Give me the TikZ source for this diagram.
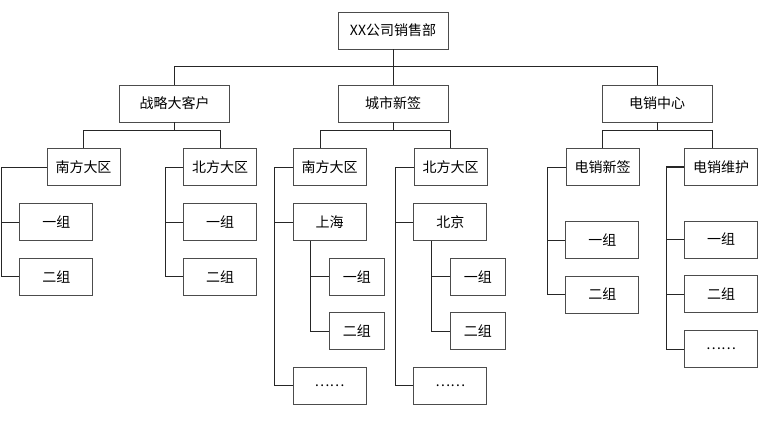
\documentclass[tikz,border=0pt]{standalone}
\usepackage{fontspec}
\setmainfont{Noto Sans CJK SC}
\begin{document}
\begin{tikzpicture}[x=1pt,y=-1pt,
  box/.style={draw=black!70, line width=0.9pt, fill=white, inner sep=0pt, minimum height=37pt,
    font=\fontsize{14}{16}\selectfont},
  wbox/.style={box, minimum width=110pt},
  mbox/.style={box, minimum width=73pt},
  sbox/.style={box, minimum width=55pt},
  conn/.style={draw=black!85, line width=0.9pt}]
\useasboundingbox (0,0) rectangle (769,425);
% level 1 and 2
\node[wbox] (top) at (393,30.5) {XX公司销售部};
\node[wbox] (zhan) at (174.5,103.5) {战略大客户};
\node[wbox] (city) at (393,103.5) {城市新签};
\node[wbox] (dian) at (657,103.5) {电销中心};
% level 3
\node[mbox] (nL) at (83.5,167) {南方大区};
\node[mbox] (bL) at (220,167) {北方大区};
\node[mbox] (nC) at (329.5,167) {南方大区};
\node[mbox] (bC) at (450.5,167) {北方大区};
\node[mbox] (xin) at (602.5,167) {电销新签};
\node[mbox] (wei) at (721,167) {电销维护};
% level 4
\node[mbox] (nL1) at (56.3,222) {一组};
\node[mbox] (nL2) at (56.3,276.7) {二组};
\node[mbox] (bL1) at (220,222) {一组};
\node[mbox] (bL2) at (220,276.7) {二组};
\node[mbox] (sh) at (329.5,222) {上海};
\node[sbox] (sh1) at (356.8,276.7) {一组};
\node[sbox] (sh2) at (356.8,331.3) {二组};
\node[mbox] (nCd) at (329.5,385.7) {……};
\node[mbox] (bj) at (450.3,222) {北京};
\node[sbox] (bj1) at (477.8,276.7) {一组};
\node[sbox] (bj2) at (477.8,331.3) {二组};
\node[mbox] (bCd) at (450.3,385.7) {……};
\node[mbox] (xin1) at (602.3,240) {一组};
\node[mbox] (xin2) at (602.3,294.5) {二组};
\node[mbox] (wei1) at (721,239.5) {一组};
\node[mbox] (wei2) at (721,294.2) {二组};
\node[mbox] (weid) at (721,349.2) {……};
% top connectors
\draw[conn] (top.south) -- (city.north);
\draw[conn] (zhan.north) -- ++(0,-18) -| (dian.north);
% level 2 -> 3
\draw[conn] (zhan.south) -- ++(0,9);
\draw[conn] (nL.north) -- ++(0,-18) -| (bL.north);
\draw[conn] (city.south) -- ++(0,9);
\draw[conn] ([xshift=-9.5pt]nC.north) -- ++(0,-18) -| (bC.north);
\draw[conn] (dian.south) -- ++(0,9);
\draw[conn] (xin.north) -- ++(0,-18) -| ([xshift=-9pt]wei.north);
% level 3 -> 4 (left side spines)
\draw[conn] (nL.west) -| ([xshift=-18pt]nL2.west) -- (nL2.west);
\draw[conn] ([xshift=-18pt]nL1.west) -- (nL1.west);
\draw[conn] (bL.west) -| ([xshift=-18pt]bL2.west) -- (bL2.west);
\draw[conn] ([xshift=-18pt]bL1.west) -- (bL1.west);
\draw[conn] (nC.west) -| ([xshift=-18pt]nCd.west) -- (nCd.west);
\draw[conn] ([xshift=-18pt]sh.west) -- (sh.west);
\draw[conn] (bC.west) -| ([xshift=-18pt]bCd.west) -- (bCd.west);
\draw[conn] ([xshift=-18pt]bj.west) -- (bj.west);
\draw[conn] ([xshift=18pt]sh.south west) |- (sh2.west);
\draw[conn] ([xshift=-18pt]sh1.west) -- (sh1.west);
\draw[conn] ([xshift=18pt]bj.south west) |- (bj2.west);
\draw[conn] ([xshift=-18pt]bj1.west) -- (bj1.west);
\draw[conn] (xin.west) -| ([xshift=-18pt]xin2.west) -- (xin2.west);
\draw[conn] ([xshift=-18pt]xin1.west) -- (xin1.west);
\draw[conn, line width=1.6pt] (wei.west) -- ([xshift=-18pt]wei.west);
\draw[conn] ([xshift=-18pt]wei.west) -- ([xshift=-18pt]weid.west) -- (weid.west);
\draw[conn] ([xshift=-18pt]wei1.west) -- (wei1.west);
\draw[conn] ([xshift=-18pt]wei2.west) -- (wei2.west);
\end{tikzpicture}
\end{document}
